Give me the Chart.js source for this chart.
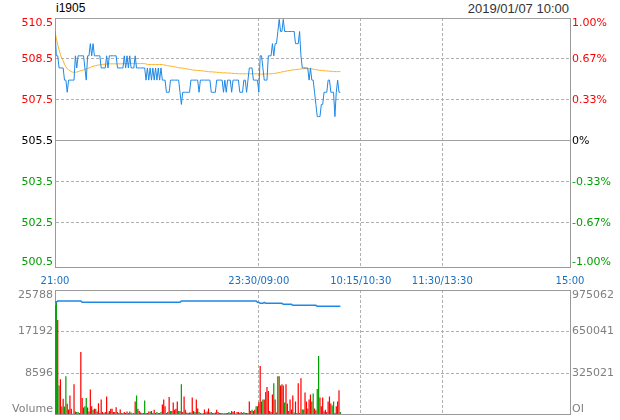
<!DOCTYPE html>
<html>
<head>
<meta charset="utf-8">
<script src="https://cdn.jsdelivr.net/npm/chart.js@4.4.1/dist/chart.umd.min.js"></script>
<style>
  body { margin: 0; background: #fff; }
  #wrap { position: relative; width: 620px; height: 420px; overflow: hidden; }
  canvas { position: absolute; left: 0; }
  #code { position: absolute; left: 56px; top: 1px; font: 12px "Liberation Sans", Arial, sans-serif; color: #000; }
  #stamp { position: absolute; right: 51px; top: 1px; font: 13px "Liberation Sans", Arial, sans-serif; color: #333; }
</style>
</head>
<body>
<div id="wrap">
  <div id="code">i1905</div>
  <div id="stamp">2019/01/07 10:00</div>
  <canvas id="priceChart" width="620" height="290" style="top:0"></canvas>
  <canvas id="volChart" width="620" height="140" style="top:280px"></canvas>
</div>
<script>
// previous settle, the 0% line
const preClose = 505.5;
const priceLabels = ["500.5", "502.5", "503.5", "505.5", "507.5", "508.5", "510.5"];
const pctLabels = ["-1.00%", "-0.67%", "-0.33%", "0%", "0.33%", "0.67%", "1.00%"];
const timeLabels = ["21:00", "23:30/09:00", "10:15/10:30", "11:30/13:30", "15:00"];
const timeSlots = [0, 150, 225, 285, 379];
const volLabels = ["Volume", "8596", "17192", "25788"];
const oiLabels = ["OI", "325021", "650041", "975062"];
const volMax = 25788;
const oiMax = 975062;

// one value per minute from 21:00
const price = [
  510, 509, 509, 508.5, 508.5, 508.5, 508.5, 508, 508, 507.5,
  508, 508, 508, 508, 508, 509, 508.5, 509, 509, 509,
  509, 509, 508.5, 508, 509, 509, 509.5, 509, 509.5, 509,
  509, 509, 509, 509, 508.5, 508.5, 508.5, 508.5, 509, 508.5,
  509, 509, 509, 509, 509, 509, 508.5, 508.5, 508.5, 508.5,
  508.5, 509, 508.5, 509, 508.5, 509, 508.5, 508.5, 508.5, 509,
  508.5, 508.5, 508.5, 508.5, 508.5, 508.5, 508.5, 508, 508.5, 508,
  508.5, 508, 508.5, 508, 508.5, 508, 508.5, 508, 508.5, 508,
  508, 508, 507.5, 507.5, 507.5, 508, 508, 508, 508, 508,
  508, 508, 507.5, 507, 507.5, 507.5, 507.5, 507.5, 507.5, 507.5,
  508, 508, 508, 508, 508, 508, 507.5, 508, 508, 508,
  508, 508, 508, 508, 508, 507.5, 507.5, 507.5, 507.5, 508,
  508, 508, 508, 508, 507.5, 508, 507.5, 508, 508, 508,
  507.5, 508, 508, 508, 508, 508, 507.5, 507.5, 507.5, 508,
  508, 507.5, 508, 508.5, 508.5, 508.5, 508, 508, 508, 508,
  507.5, 509, 509, 508.5, 508, 508, 508, 509, 509, 509,
  509.5, 509, 509.5, 509.5, 510, 510.5, 510, 510, 510.5, 510,
  510, 510, 510, 510, 510, 510, 510, 509.5, 509.5, 509.5,
  510, 509, 508.5, 508.5, 508.5, 508.5, 508.5, 508, 508.5, 508,
  508, 507.5, 507, 506.5, 506.5, 506.5, 507, 507, 507.5, 507.5,
  507.5, 508, 508, 507.5, 507.5, 507.5, 506.5, 507.5, 508, 507.5, 507.5
];
const avgPrice = [
  510, 509.7, 509.45, 509.25, 509.05, 508.9, 508.8, 508.65, 508.55, 508.47,
  508.42, 508.38, 508.35, 508.33, 508.32, 508.32, 508.33, 508.35, 508.37, 508.39,
  508.4, 508.42, 508.44, 508.46, 508.48, 508.5, 508.52, 508.55, 508.57, 508.58,
  508.6, 508.61, 508.62, 508.63, 508.64, 508.65, 508.65, 508.66, 508.66, 508.67,
  508.67, 508.67, 508.67, 508.67, 508.67, 508.67, 508.67, 508.67, 508.67, 508.67,
  508.68, 508.68, 508.68, 508.68, 508.68, 508.68, 508.68, 508.68, 508.68, 508.68,
  508.68, 508.68, 508.68, 508.68, 508.68, 508.68, 508.68, 508.66, 508.65, 508.64,
  508.64, 508.64, 508.64, 508.64, 508.64, 508.64, 508.64, 508.64, 508.64, 508.64,
  508.63, 508.62, 508.6, 508.59, 508.58, 508.58, 508.57, 508.56, 508.55, 508.54,
  508.52, 508.51, 508.5, 508.5, 508.49, 508.48, 508.47, 508.46, 508.45, 508.44,
  508.43, 508.42, 508.41, 508.41, 508.4, 508.4, 508.39, 508.39, 508.38, 508.38,
  508.37, 508.36, 508.35, 508.35, 508.34, 508.34, 508.34, 508.33, 508.33, 508.32,
  508.32, 508.31, 508.31, 508.3, 508.3, 508.3, 508.3, 508.29, 508.29, 508.29,
  508.28, 508.28, 508.27, 508.27, 508.27, 508.26, 508.26, 508.26, 508.26, 508.26,
  508.26, 508.26, 508.26, 508.26, 508.26, 508.26, 508.26, 508.26, 508.26, 508.26,
  508.25, 508.25, 508.25, 508.25, 508.25, 508.25, 508.26, 508.26, 508.26, 508.26,
  508.27, 508.27, 508.28, 508.29, 508.3, 508.31, 508.32, 508.34, 508.35, 508.36,
  508.37, 508.38, 508.39, 508.4, 508.41, 508.42, 508.43, 508.43, 508.44, 508.45,
  508.45, 508.46, 508.46, 508.47, 508.47, 508.47, 508.47, 508.47, 508.46, 508.46,
  508.45, 508.44, 508.43, 508.42, 508.41, 508.4, 508.4, 508.39, 508.39, 508.38,
  508.38, 508.37, 508.37, 508.36, 508.36, 508.36, 508.35, 508.35, 508.35, 508.35, 508.35
];
const volume = [
  22700, 23500, 19550, 6030, 7280, 1660, 3260, 1660, 7900, 2220,
  1040, 3950, 1180, 150, 6240, 620, 500, 500, 300, 12960,
  3400, 1460, 1700, 3400, 1460, 600, 5200, 1700, 1000, 1200,
  1200, 600, 2350, 300, 3120, 500, 300, 500, 3740, 400,
  700, 1200, 1200, 500, 500, 1500, 500, 300, 1040, 300,
  300, 500, 300, 600, 300, 600, 400, 200, 300, 2700,
  3950, 1200, 700, 400, 300, 300, 2900, 300, 300, 600,
  600, 700, 300, 1000, 300, 500, 300, 300, 500, 2080,
  3120, 1700, 300, 500, 3600, 700, 700, 2500, 1000, 1200,
  2700, 700, 700, 6240, 500, 3740, 1000, 400, 300, 400,
  400, 3500, 700, 500, 3120, 1250, 500, 300, 200, 300,
  1040, 400, 600, 1250, 400, 500, 300, 300, 400, 1000,
  500, 300, 300, 300, 200, 300, 300, 300, 500, 300,
  700, 500, 700, 200, 500, 500, 300, 500, 300, 500,
  300, 300, 300, 2700, 700, 1000, 700, 1000, 1700, 1700,
  2560, 10050, 2700, 3100, 3100, 4640, 5680, 4850, 700, 500,
  4160, 6450, 3120, 400, 7900, 7900, 6030, 6240, 6030, 2500,
  6240, 2280, 700, 3120, 1040, 3950, 400, 2700, 300, 6450,
  300, 7500, 1040, 1040, 4550, 2700, 1250, 3120, 4160, 2700,
  4370, 1250, 900, 5270, 12130, 3540, 1700, 3540, 600, 1000,
  500, 2700, 3740, 2300, 1870, 2700, 300, 1700, 2700, 5000, 500
];
// 1 = red bar, 0 = green bar
const volUp = [
  1, 0, 1, 0, 1, 0, 1, 0, 0, 1,
  1, 1, 1, 1, 1, 1, 0, 0, 1, 1,
  1, 1, 0, 0, 1, 1, 1, 1, 0, 1,
  0, 1, 1, 1, 1, 1, 0, 1, 1, 0,
  1, 1, 1, 1, 1, 1, 0, 1, 1, 0,
  0, 1, 1, 1, 1, 0, 1, 1, 1, 1,
  0, 1, 1, 1, 1, 1, 0, 1, 1, 1,
  0, 1, 1, 1, 1, 0, 1, 1, 0, 1,
  1, 1, 1, 1, 1, 0, 1, 1, 1, 1,
  1, 0, 1, 0, 1, 1, 0, 1, 1, 1,
  1, 1, 1, 0, 1, 1, 0, 1, 1, 0,
  1, 1, 1, 1, 1, 0, 1, 1, 1, 1,
  1, 1, 1, 1, 1, 0, 1, 1, 0, 1,
  1, 1, 1, 1, 1, 1, 1, 1, 1, 0,
  1, 1, 1, 1, 1, 0, 1, 1, 0, 1,
  1, 1, 1, 0, 1, 0, 1, 1, 1, 1,
  1, 0, 1, 1, 1, 0, 1, 1, 1, 0,
  1, 1, 1, 1, 1, 1, 0, 1, 1, 1,
  1, 1, 0, 0, 1, 1, 0, 1, 1, 1,
  0, 1, 1, 0, 0, 1, 1, 1, 1, 1,
  1, 1, 1, 1, 0, 0, 1, 1, 1, 1, 0
];
const openInt = [
  878300, 878300, 888500, 888500, 888500, 888500, 888500, 888500, 888500, 888500,
  888500, 888500, 888500, 888500, 888500, 888500, 888500, 888500, 888500, 888500,
  878300, 878300, 878300, 878300, 878300, 878300, 878300, 878300, 878300, 878300,
  878300, 878300, 878300, 878300, 878300, 878300, 878300, 878300, 878300, 878300,
  878300, 878300, 878300, 878300, 878300, 878300, 878300, 878300, 878300, 878300,
  878300, 878300, 878300, 878300, 878300, 878300, 878300, 878300, 878300, 878300,
  878300, 878300, 878300, 878300, 878300, 878300, 878300, 878300, 878300, 878300,
  878300, 878300, 878300, 878300, 878300, 878300, 878300, 878300, 878300, 878300,
  878300, 878300, 878300, 878300, 878300, 878300, 878300, 878300, 878300, 878300,
  878300, 878300, 878300, 888500, 888500, 888500, 888500, 888500, 888500, 888500,
  888500, 888500, 888500, 888500, 888500, 888500, 888500, 888500, 888500, 888500,
  888500, 888500, 888500, 888500, 888500, 888500, 888500, 888500, 888500, 888500,
  888500, 888500, 888500, 888500, 888500, 888500, 888500, 888500, 888500, 888500,
  888500, 888500, 888500, 888500, 888500, 888500, 888500, 888500, 888500, 888500,
  888500, 888500, 888500, 888500, 888500, 888500, 888500, 888500, 888500, 878300,
  878300, 870500, 870500, 870500, 878300, 870500, 870500, 870500, 870500, 870500,
  870500, 870500, 870500, 870500, 870500, 870500, 870500, 870500, 862600, 862600,
  862600, 862600, 862600, 862600, 862600, 854700, 854700, 854700, 854700, 854700,
  854700, 854700, 854700, 854700, 854700, 854700, 854700, 854700, 854700, 854700,
  854700, 854700, 854700, 846900, 846900, 846900, 846900, 846900, 846900, 846900,
  846900, 846900, 846900, 846900, 846900, 846900, 846900, 846900, 846900, 846900, 846900
];

const RED = "#ff0000", GREEN = "#00a000", BLUE = "#1e88e5";
const axisFont = '11px "DejaVu Sans"';

// tick values: preClose +/- thirds of 1%, the lowest one sits on the panel bottom
const yMin = preClose * (1 - 0.0103);
const priceTickVals = priceLabels.map((_, k) => k === 0 ? yMin : preClose * (1 + (k - 3) / 300));
const volTickVals = volLabels.map((_, k) => volMax * k / 3);

function labelColor(k) {
    if (k < 3) return GREEN;
    if (k > 3) return RED;
    return "#000";
}

// draws the left/right tick texts, top one below its line, bottom one above
function sideLabels(leftText, rightText, colorOf) {
    return {
        id: "sideLabels",
        afterDraw(chart) {
            const ctx = chart.ctx;
            const s = chart.scales.y;
            const n = s.ticks.length;
            ctx.save();
            ctx.font = axisFont;
            s.ticks.forEach((t, k) => {
                let y = s.getPixelForValue(t.value);
                if (k === n - 1) { ctx.textBaseline = "top"; }
                else if (k === 0) { ctx.textBaseline = "bottom"; }
                else { ctx.textBaseline = "middle"; }
                ctx.fillStyle = colorOf(k);
                ctx.textAlign = "right";
                ctx.fillText(leftText[k], chart.chartArea.left - 2, y);
                ctx.textAlign = "left";
                ctx.fillText(rightText[k], chart.chartArea.right + 2, y);
            });
            ctx.restore();
        }
    };
}

function timeAxis(showLabels) {
    const edge = c => c.index === 0 || c.index === timeSlots.length - 1;
    return {
        type: "linear",
        min: 0,
        max: timeSlots[timeSlots.length - 1],
        offset: false,
        afterBuildTicks: s => { s.ticks = timeSlots.map(v => ({ value: v })); },
        afterFit: s => { s.height = showLabels ? 22.5 : 0; },
        ticks: {
            display: showLabels,
            autoSkip: false,
            maxRotation: 0,
            padding: 8,
            color: "#1a6fc0",
            font: { family: "DejaVu Sans", size: 10 },
            callback: (v, i) => timeLabels[i]
        },
        grid: { drawTicks: false, offset: false, color: c => edge(c) ? "#999" : "#b0b0b0" },
        border: { color: "#999", dash: c => edge(c) ? [] : [3, 2] }
    };
}

const xy = arr => arr.map((v, i) => ({ x: i, y: v }));

new Chart(document.getElementById("priceChart"), {
    type: "line",
    data: {
        datasets: [
            { data: xy(price), borderColor: BLUE, borderWidth: 1, pointRadius: 0, tension: 0 },
            { data: xy(avgPrice), borderColor: "#ffb020", borderWidth: 1, pointRadius: 0, tension: 0 }
        ]
    },
    options: {
        responsive: false,
        animation: false,
        events: [],
        layout: { padding: { top: 18, right: 50, left: 0, bottom: 0 } },
        plugins: { legend: { display: false }, tooltip: { enabled: false } },
        scales: {
            x: timeAxis(true),
            y: {
                min: priceTickVals[0],
                max: priceTickVals[priceTickVals.length - 1],
                afterBuildTicks: s => { s.ticks = priceTickVals.map(v => ({ value: v })); },
                afterFit: s => { s.width = 55; },
                ticks: { display: false },
                grid: { drawTicks: false, color: c => (c.index === 3 || c.index === 6) ? "#a0a0a0" : "#b0b0b0" },
                border: { color: "#999", dash: c => (c.index === 0 || c.index === 3 || c.index === 6) ? [] : [3, 2] }
            }
        }
    },
    plugins: [sideLabels(priceLabels, pctLabels, labelColor)]
});

new Chart(document.getElementById("volChart"), {
    type: "bar",
    data: {
        datasets: [
            { type: "line", data: xy(openInt), yAxisID: "y1", borderColor: BLUE, borderWidth: 1.5, pointRadius: 0, tension: 0 },
            {
                data: xy(volume),
                yAxisID: "y",
                backgroundColor: volUp.map(u => u ? RED : GREEN),
                borderWidth: 0,
                barPercentage: 0.9,
                categoryPercentage: 1
            }
        ]
    },
    options: {
        responsive: false,
        animation: false,
        events: [],
        layout: { padding: { top: 10, right: 50, left: 0, bottom: 5.5 } },
        plugins: { legend: { display: false }, tooltip: { enabled: false } },
        scales: {
            x: timeAxis(false),
            y: {
                min: 0,
                max: volMax,
                afterBuildTicks: s => { s.ticks = volTickVals.map(v => ({ value: v })); },
                afterFit: s => { s.width = 55; },
                ticks: { display: false },
                grid: { drawTicks: false, color: c => c.index === 3 ? "#999" : "#b0b0b0" },
                border: { color: "#999", dash: c => (c.index === 0 || c.index === 3) ? [] : [3, 2] }
            },
            y1: { display: false, min: 0, max: oiMax }
        }
    },
    plugins: [sideLabels(volLabels, oiLabels, () => "#808080")]
});
</script>
</body>
</html>
